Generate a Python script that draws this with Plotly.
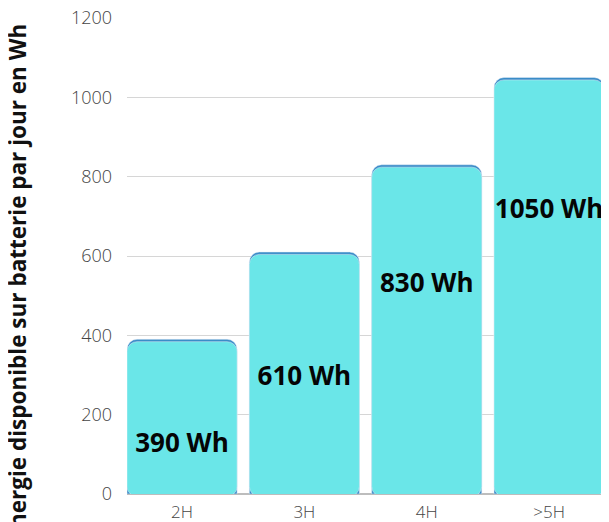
import plotly.graph_objects as go

categories = ["2H", "3H", "4H", ">5H"]
values = [390, 610, 830, 1050]
labels = ["390 Wh", "610 Wh", "830 Wh", "1050 Wh"]
label_y = [122, 292, 526, 713]
y_ticks = [0, 200, 400, 600, 800, 1000, 1200]
y_title = "Énergie disponible sur batterie par jour en Wh"

FONT = "Open Sans"
fig = go.Figure()
# thin darker top edge
fig.add_trace(go.Bar(x=categories, y=values, marker=dict(color="#3a8cc8", cornerradius=10),
                     hoverinfo="skip", showlegend=False))
fig.add_trace(go.Bar(x=categories, y=values, base=[-6] * len(values),
                     marker=dict(color="#6ae6e8", cornerradius=10),
                     showlegend=False))
fig.add_trace(go.Scatter(x=categories, y=label_y, mode="text", text=labels,
                         textfont=dict(family=FONT, size=26, color="#050505", weight="bold"),
                         showlegend=False, hoverinfo="skip"))

fig.update_layout(
    width=609, height=522,
    margin=dict(l=119, r=8, t=10, b=36, autoexpand=False),
    barmode="overlay", bargap=0.1,
    plot_bgcolor="white", paper_bgcolor="white",
    font=dict(family=FONT),
    xaxis=dict(range=[-0.45, 3.49], showgrid=False, showline=False, zeroline=False,
               automargin=False,
               tickfont=dict(family=FONT, size=17, color="#444444", weight=300), ticklabelstandoff=6),
    yaxis=dict(range=[0, 1200], tickvals=y_ticks, showgrid=True, gridcolor="#d6d6d6", gridwidth=1,
               zeroline=True, zerolinecolor="#bdbdbd", zerolinewidth=2, showline=False,
               ticklabeloverflow="allow", automargin=False,
               tickfont=dict(family=FONT, size=18, color="#444444", weight=300), ticklabelstandoff=14),
    annotations=[dict(text=y_title, textangle=-90, xref="paper", yref="paper",
                      x=-0.228, y=0.9916, xanchor="center", yanchor="top", showarrow=False,
                      font=dict(family=FONT, size=22.5, color="#111111", weight="bold"))],
)
fig.write_html("out.html")
